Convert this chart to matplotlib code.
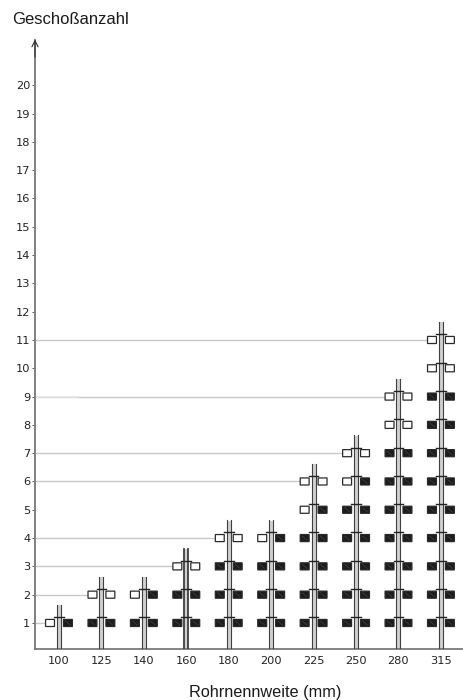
import matplotlib
matplotlib.use("Agg")
import matplotlib.pyplot as plt
from matplotlib.patches import Rectangle

plt.rcParams['font.family'] = ['Liberation Sans', 'DejaVu Sans']

diameters = [100, 125, 140, 160, 180, 200, 225, 250, 280, 315]
floor_ticks = list(range(1, 21))

# number of floors where the left / right branch is filled black
left_black = [0, 1, 1, 2, 3, 3, 4, 5, 7, 9]
right_black = [1, 1, 2, 2, 3, 4, 5, 6, 7, 9]
total_floors = [1, 2, 2, 3, 4, 4, 6, 7, 9, 11]

# horizontal guide lines: floor and the column they run up to
guide_floors = [1, 2, 3, 4, 6, 7, 9, 11]
guide_column = [0, 1, 3, 4, 6, 7, 8, 9]

fig = plt.figure(figsize=(4.63, 7.0), dpi=100)
ax = fig.add_axes([35 / 463, 51 / 700, 428 / 463, 609 / 700])
ax.set_xlim(-0.565, 9.52)
ax.set_ylim(0.08, 21.6)

for s in ['top', 'right']:
    ax.spines[s].set_visible(False)
ax.spines['left'].set_color('#808080')
ax.spines['left'].set_linewidth(1.4)
ax.spines['bottom'].set_color('#707070')
ax.spines['bottom'].set_linewidth(1.2)
ax.annotate('', xy=(-0.565, 21.62), xytext=(-0.565, 21.0), annotation_clip=False,
            arrowprops=dict(arrowstyle='->', color='#303030', lw=0.8, shrinkA=0, shrinkB=0,
                            mutation_scale=11))

ax.set_xticks(range(len(diameters)))
ax.set_xticklabels(diameters, fontsize=8.2, color='#222222', family='DejaVu Sans')
ax.set_yticks(floor_ticks)
ax.set_yticklabels(floor_ticks, fontsize=8.2, color='#222222', family='DejaVu Sans')
ax.tick_params(axis='x', length=0, pad=5)
ax.tick_params(axis='y', length=2, width=0.7, color='#555555', pad=1.5)

for floor, col in zip(guide_floors, guide_column):
    ax.plot([-0.565, col - 0.31], [floor, floor], color='#c8c8c8', lw=1.0, zorder=1)
ax.plot([-0.565, 0.45], [9, 9], color='#e6e6e6', lw=1.1, zorder=1.1)

# flag size in data units
fw = 0.21
fh = 0.25
gap = 0.106

for col in range(len(diameters)):
    top = total_floors[col]
    heavy = diameters[col] == 160
    lw_pipe = 1.3 if heavy else 0.8
    ax.add_patch(Rectangle((col - 0.047, 0.08), 0.094, top + 0.54, fc='#d0d0d0', ec='none', zorder=2))
    ax.plot([col - 0.047, col - 0.047], [0.08, top + 0.63], color='#404040', lw=lw_pipe, zorder=3)
    ax.plot([col + 0.047, col + 0.047], [0.08, top + 0.63], color='#404040', lw=lw_pipe, zorder=3)
    for floor in range(1, top + 1):
        # short tee above the branches
        ax.plot([col - 0.115, col + 0.115], [floor + 0.2, floor + 0.2], color='#222222', lw=1.0, zorder=4)
        for side, black in ((-1, left_black[col]), (1, right_black[col])):
            x0 = col + gap if side == 1 else col - gap - fw
            filled = floor <= black
            ax.add_patch(Rectangle((x0, floor - fh / 2), fw, fh, fc='#1c1c1c' if filled else 'white',
                                   ec='#2a2a2a', lw=0.9, zorder=5, snap=False))
            if filled:
                ax.plot([x0 + 0.05, x0 + fw - 0.05], [floor + 0.07, floor - 0.07], color='#444444', lw=0.5, zorder=6)

fig.text(12 / 463, 1 - 20 / 700, 'Geschoßanzahl', fontsize=12, color='#1a1a1a', ha='left', va='center')
fig.text(265 / 463, 1 - 692 / 700, 'Rohrnennweite (mm)', fontsize=11.7, color='#1a1a1a', ha='center', va='center')

fig.savefig('out.png', dpi=100)
